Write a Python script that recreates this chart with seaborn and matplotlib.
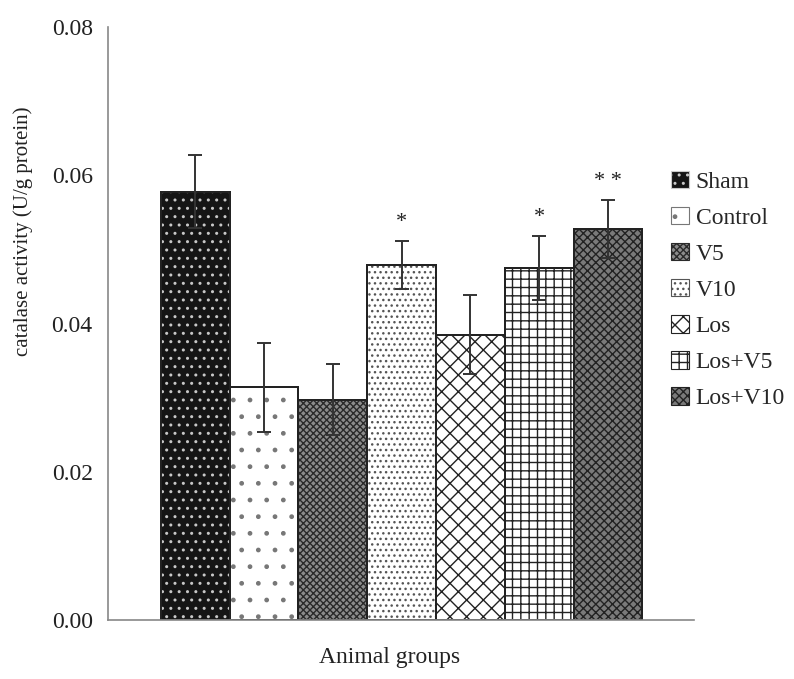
import matplotlib
matplotlib.use("Agg")
import matplotlib.pyplot as plt
from matplotlib.patches import Rectangle, Patch
import seaborn as sns
import pandas as pd

groups = ["Sham", "Control", "V5", "V10", "Los", "Los+V5", "Los+V10"]
means = [0.0578, 0.0314, 0.0297, 0.0479, 0.0385, 0.0475, 0.0528]
errors = [0.0049, 0.0060, 0.0048, 0.0033, 0.0053, 0.0043, 0.0039]
stars = ["", "", "", "*", "", "*", "* *"]

face_colors = ["#151515", "#ffffff", "#8c8c8c", "#ffffff", "#ffffff", "#ffffff", "#7a7a7a"]
hatch_colors = ["#c8c8c8", "#777777", "#2a2a2a", "#555555", "#222222", "#222222", "#222222"]
hatches = ["..", ".", "xxxxx", "...", "xx", "++", "xxxx"]

df = pd.DataFrame({"group": groups, "value": means})

sns.set_style("white")
plt.rcParams["font.family"] = ["Liberation Serif", "DejaVu Serif"]
plt.rcParams["hatch.linewidth"] = 1.0

fig = plt.figure(figsize=(7.94, 6.79), dpi=100)
ax = fig.add_axes([0.136, 0.087, 0.738, 0.873])

sns.barplot(data=df, x="group", y="value", hue="group", palette=face_colors,
            width=1.0, edgecolor="#222222", linewidth=1.4, legend=False, ax=ax,
            saturation=1)

bars = list(ax.patches)
xs = []
for p, h, hc in zip(bars, hatches, hatch_colors):
    xs.append(p.get_x() + p.get_width() / 2)
    ax.add_patch(Rectangle(p.get_xy(), p.get_width(), p.get_height(), fill=False,
                           hatch=h, edgecolor=hc, linewidth=0, zorder=p.get_zorder() + 0.1))
    ax.add_patch(Rectangle(p.get_xy(), p.get_width(), p.get_height(), fill=False,
                           edgecolor="#222222", linewidth=1.4, zorder=p.get_zorder() + 0.2))

ax.errorbar(xs, means, yerr=errors, fmt="none", ecolor="#333333", elinewidth=1.4,
            capsize=5, capthick=1.4, zorder=5)

for x, m, e, s in zip(xs, means, errors, stars):
    if s:
        ax.text(x, m + e + 0.0012, s, ha="center", va="bottom", fontsize=16, color="#222222")

ax.set_ylim(0, 0.08)
ax.set_xlim(-1.27, 7.25)
ax.set_yticks([0.0, 0.02, 0.04, 0.06, 0.08])
ax.set_yticklabels(["0.00", "0.02", "0.04", "0.06", "0.08"])
ax.set_xticks([-1.27, 7.25])
ax.set_xticklabels(["", ""])
ax.tick_params(axis="both", direction="out", length=5, width=1, color="#888888",
               labelsize=17, labelcolor="#222222")
ax.tick_params(axis="y", pad=6)

for side in ["top", "right"]:
    ax.spines[side].set_visible(False)
for side in ["left", "bottom"]:
    ax.spines[side].set_color("#888888")
    ax.spines[side].set_linewidth(1.2)

ax.set_xlabel("Animal groups", fontsize=17, color="#222222")
ax.xaxis.set_label_coords(0.481, -0.046)
ax.set_ylabel("catalase activity (U/g protein)", fontsize=15, color="#222222")
ax.yaxis.set_label_coords(-0.128, 0.656)

handles = [Patch(facecolor=fc, edgecolor=hc, hatch=h, linewidth=0.8)
           for fc, hc, h in zip(face_colors, hatch_colors, hatches)]
leg = fig.legend(handles, groups, loc="upper left", bbox_to_anchor=(0.833, 0.762),
                 frameon=False, fontsize=17, handlelength=0.75, handleheight=0.75,
                 handletextpad=0.3, labelspacing=0.6, borderaxespad=0)

fig.savefig("out.png", dpi=100)
